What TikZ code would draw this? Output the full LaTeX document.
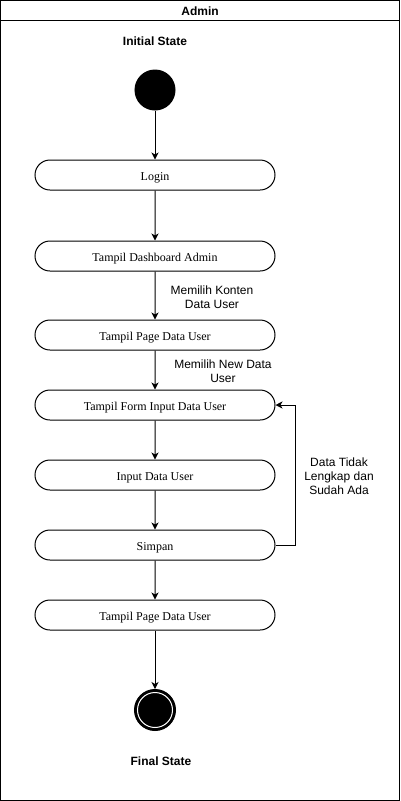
\documentclass[tikz,border=0pt]{standalone}
\usepackage{fontspec}
\setmainfont{Liberation Serif}
\setsansfont{Liberation Sans}
\usetikzlibrary{arrows.meta,shapes.misc}
\begin{document}
\begin{tikzpicture}[x=1pt,y=-1pt,
  act/.style={draw,line width=1pt,rounded rectangle,minimum width=240pt,minimum height=30pt,inner sep=0pt,text height=11pt,text depth=1pt,font=\fontsize{12}{14}\selectfont},
  lbl/.style={font=\sffamily\fontsize{12}{14}\selectfont,align=center,inner sep=0pt},
  ttl/.style={font=\sffamily\bfseries\fontsize{12}{14}\selectfont,inner sep=0pt},
  flow/.style={line width=1pt,-{Stealth[length=7pt,width=7pt,inset=2pt]}}]
\useasboundingbox (0,0) rectangle (400,801);
\draw[line width=1pt] (0.5,0.5) rectangle (399.5,800.5);
\draw[line width=1pt] (0.5,20.5) -- (399.5,20.5);
\node[ttl] (admin) at (200,11) {Admin};
\node[ttl] (init) at (155,41) {Initial State};
\node[circle,fill=black,draw=black,line width=1pt,minimum size=40pt,inner sep=0pt] (start) at (155,90) {};
\node[act] (login) at (155,175) {Login};
\node[act] (dash) at (155,256) {Tampil Dashboard Admin};
\node[act] (page1) at (155,335) {Tampil Page Data User};
\node[act] (form) at (155,405) {Tampil Form Input Data User};
\node[act] (input) at (155,475) {Input Data User};
\node[act] (simpan) at (155,545) {Simpan};
\node[act] (page2) at (155,615) {Tampil Page Data User};
\node[circle,fill=black,draw=black,line width=1pt,minimum size=41pt,inner sep=0pt] (end) at (155,710) {};
\draw[white,line width=1pt] (end.center) circle (17.5pt);
\node[ttl] (final) at (161,761) {Final State};
\node[lbl] (l1) at (212,297) {Memilih Konten\\Data User};
\node[lbl] (l2) at (223,371) {Memilih New Data\\User};
\node[lbl] (l3) at (339,476) {Data Tidak\\Lengkap dan\\Sudah Ada};
\draw[flow] (start) -- (login);
\draw[flow] (login) -- (dash);
\draw[flow] (dash) -- (page1);
\draw[flow] (page1) -- (form);
\draw[flow] (form) -- (input);
\draw[flow] (input) -- (simpan);
\draw[flow] (simpan) -- (page2);
\draw[flow] (page2) -- (end);
\draw[flow] (simpan.east) -- (295,545) -- (295,405) -- (form.east);
\end{tikzpicture}
\end{document}
